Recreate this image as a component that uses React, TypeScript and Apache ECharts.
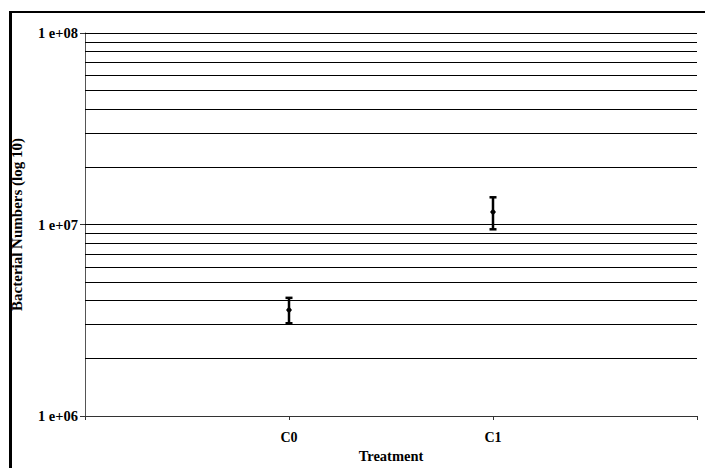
import React, { useEffect, useRef } from "react";
import * as echarts from "echarts";

const categories = ["", "C0", "C1", ""];
const means = [3.58e6, 1.162e7];
const lows = [3.05e6, 9.44e6];
const highs = [4.14e6, 1.387e7];
const pointCategories = ["C0", "C1"];
const gridValues = [
  2e6, 3e6, 4e6, 5e6, 6e6, 7e6, 8e6, 9e6,
  1e7, 2e7, 3e7, 4e7, 5e7, 6e7, 7e7, 8e7, 9e7, 1e8,
];
const yLabels: Record<string, string> = {
  "1000000": "1 e+06",
  "10000000": "1 e+07",
  "100000000": "1 e+08",
};

const FONT = "Liberation Serif";

export default function App() {
  const ref = useRef<HTMLDivElement>(null);
  useEffect(() => {
    if (!ref.current) return;
    const chart = echarts.init(ref.current, undefined, { renderer: "svg" });
    const errData = pointCategories.map((c, i) => [c, means[i], lows[i], highs[i]]);
    chart.setOption({
      animation: false,
      backgroundColor: "#fff",
      grid: { left: 85, right: 8, top: 33, bottom: 52, containLabel: false, outerBoundsMode: "none" },
      graphic: [
        { type: "line", shape: { x1: 10, y1: 12, x2: 705, y2: 12 }, style: { stroke: "#000", lineWidth: 2 } },
        { type: "line", shape: { x1: 10.5, y1: 11, x2: 10.5, y2: 480 }, style: { stroke: "#000", lineWidth: 3 } },
      ],
      xAxis: {
        type: "category",
        data: categories,
        boundaryGap: false,
        name: "Treatment",
        nameLocation: "middle",
        nameGap: 32,
        nameTextStyle: { fontFamily: FONT, fontWeight: "bold", fontSize: 14.5, color: "#000" },
        axisLine: { lineStyle: { color: "#333", width: 1 } },
        axisTick: { show: true, length: 4, lineStyle: { color: "#333" } },
        axisLabel: { fontFamily: FONT, fontWeight: "bold", fontSize: 14, color: "#000", margin: 14 },
        splitLine: { show: false },
      },
      yAxis: {
        type: "log",
        logBase: 10,
        min: 1e6,
        max: 1e8,
        name: "Bacterial Numbers (log 10)",
        nameLocation: "middle",
        nameGap: 61,
        nameRotate: 90,
        nameTextStyle: { fontFamily: FONT, fontWeight: "bold", fontSize: 15, color: "#000" },
        axisLine: { show: true, lineStyle: { color: "#555", width: 1 } },
        axisTick: { show: true, length: 5, lineStyle: { color: "#333" } },
        axisLabel: {
          fontFamily: FONT,
          fontWeight: "bold",
          fontSize: 14.5,
          color: "#000",
          margin: 7,
          formatter: (v: number) => yLabels[String(Math.round(v))] ?? "",
        },
        splitLine: { show: false },
        minorTick: { show: false },
      },
      series: [
        {
          type: "custom",
          data: errData,
          encode: { x: 0, y: 1 },
          renderItem: (params: any, api: any) => {
            const x = api.coord([api.value(0), api.value(1)])[0];
            const yMean = api.coord([api.value(0), api.value(1)])[1];
            const yLow = api.coord([api.value(0), api.value(2)])[1];
            const yHigh = api.coord([api.value(0), api.value(3)])[1];
            const cap = 3.5;
            const st = { stroke: "#000", lineWidth: 2.5 };
            return {
              type: "group",
              children: [
                { type: "line", shape: { x1: x, y1: yHigh, x2: x, y2: yLow }, style: st },
                { type: "line", shape: { x1: x - cap, y1: yHigh, x2: x + cap, y2: yHigh }, style: st },
                { type: "line", shape: { x1: x - cap, y1: yLow, x2: x + cap, y2: yLow }, style: st },
                {
                  type: "polygon",
                  shape: { points: [[x, yMean - 3.5], [x + 3, yMean], [x, yMean + 3.5], [x - 3, yMean]] },
                  style: { fill: "#000" },
                },
              ],
            };
          },
          markLine: {
            silent: true,
            symbol: ["none", "none"],
            label: { show: false },
            lineStyle: { color: "#000", width: 1, type: "solid" },
            data: gridValues.map((v) => ({ yAxis: v })),
          },
          z: 5,
        },
      ],
    });
    return () => chart.dispose();
  }, []);
  return (
    <div
      ref={ref}
      style={{ position: "fixed", left: 0, top: 0, width: 705, height: 468, background: "#fff" }}
    />
  );
}
